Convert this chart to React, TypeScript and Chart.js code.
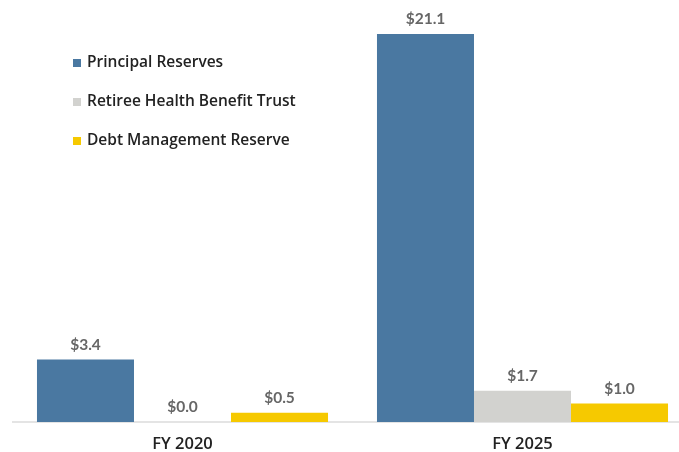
import React, { useEffect, useRef } from "react";
import { Chart, registerables } from "chart.js";

Chart.register(...registerables);

const categories = ["FY 2020", "FY 2025"];
const seriesNames = ["Principal Reserves", "Retiree Health Benefit Trust", "Debt Management Reserve"];
const principalReserves = [3.4, 21.1];
const retireeHealth = [0.0, 1.7];
const debtManagement = [0.5, 1.0];
const seriesColors = ["#4a78a1", "#d2d2cf", "#f6c900"];

const labelsPlugin = {
  id: "valueLabels",
  afterDatasetsDraw(chart: any) {
    const ctx = chart.ctx;
    ctx.save();
    ctx.font = "bold 15.5px Lato";
    ctx.fillStyle = "#666666";
    ctx.textAlign = "center";
    ctx.textBaseline = "bottom";
    chart.data.datasets.forEach((ds: any, di: number) => {
      const meta = chart.getDatasetMeta(di);
      meta.data.forEach((bar: any, i: number) => {
        const v = ds.data[i] as number;
        ctx.fillText("$" + v.toFixed(1), bar.x, bar.y - 7);
      });
    });
    ctx.restore();
  },
};

const legendPlugin = {
  id: "insideLegend",
  afterDraw(chart: any) {
    const ctx = chart.ctx;
    ctx.save();
    ctx.font = "600 15.5px 'Open Sans'";
    ctx.textBaseline = "middle";
    ctx.textAlign = "left";
    chart.data.datasets.forEach((ds: any, i: number) => {
      const y = 63 + i * 39;
      ctx.fillStyle = ds.backgroundColor;
      ctx.fillRect(73, y - 4, 8, 8);
      ctx.fillStyle = "#222222";
      ctx.fillText(ds.label, 87, y);
    });
    ctx.restore();
  },
};

export default function App() {
  const ref = useRef<HTMLCanvasElement>(null);
  useEffect(() => {
    if (!ref.current) return;
    const values = [principalReserves, retireeHealth, debtManagement];
    const chart = new Chart(ref.current, {
      type: "bar",
      data: {
        labels: categories,
        datasets: seriesNames.map((name, i) => ({
          label: name,
          data: values[i],
          backgroundColor: seriesColors[i],
          borderWidth: 0,
          categoryPercentage: 0.856,
          barPercentage: 1,
        })),
      },
      options: {
        animation: false,
        responsive: false,
        maintainAspectRatio: false,
        layout: { padding: { top: 17.5, left: 12.5, right: 12.5, bottom: 0 } },
        plugins: {
          legend: { display: false },
          tooltip: { enabled: false },
        },
        scales: {
          x: {
            grid: { display: false, drawTicks: false },
            border: { display: true, color: "#e4e4e4", width: 2 },
            ticks: {
              color: "#222222",
              font: { family: "'Open Sans'", size: 16.5, weight: "600" },
              padding: 12,
            },
            afterFit: (scale: any) => {
              scale.height = 30;
            },
          },
          y: {
            display: false,
            min: 0,
            max: 22,
          },
        },
      },
      plugins: [labelsPlugin, legendPlugin],
    });
    return () => chart.destroy();
  }, []);
  return (
    <div style={{ position: "absolute", left: 0, top: 0, width: 679, height: 452, overflow: "hidden", background: "#ffffff" }}>
      <canvas ref={ref} width={705} height={452} style={{ display: "block" }} />
    </div>
  );
}
